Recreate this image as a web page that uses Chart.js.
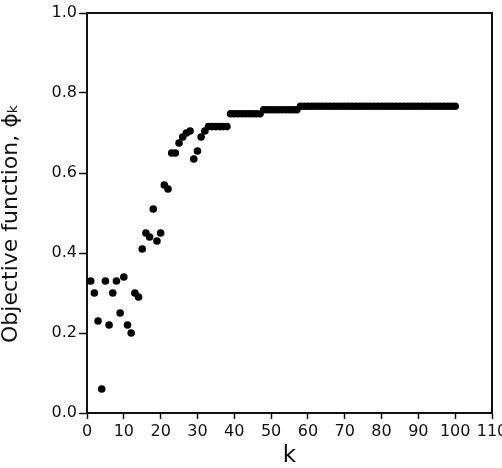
<!DOCTYPE html>
<html>
<head>
<meta charset="utf-8">
<script src="https://cdn.jsdelivr.net/npm/chart.js@4"></script>
<style>
  body { margin: 0; background: #fff; }
  #wrap { width: 502px; height: 468px; }
</style>
</head>
<body>
<div id="wrap"><canvas id="myChart" width="502" height="468"></canvas></div>
<script>
// iteration index k
var kValues = [1, 2, 3, 4, 5, 6, 7, 8, 9, 10,
  11, 12, 13, 14, 15, 16, 17, 18, 19, 20,
  21, 22, 23, 24, 25, 26, 27, 28, 29, 30,
  31, 32, 33, 34, 35, 36, 37, 38, 39, 40,
  41, 42, 43, 44, 45, 46, 47, 48, 49, 50,
  51, 52, 53, 54, 55, 56, 57, 58, 59, 60,
  61, 62, 63, 64, 65, 66, 67, 68, 69, 70,
  71, 72, 73, 74, 75, 76, 77, 78, 79, 80,
  81, 82, 83, 84, 85, 86, 87, 88, 89, 90,
  91, 92, 93, 94, 95, 96, 97, 98, 99, 100];

// objective function phi_k
var phiValues = [0.33, 0.30, 0.23, 0.06, 0.33, 0.22, 0.30, 0.33, 0.25, 0.34,
  0.22, 0.20, 0.30, 0.29, 0.41, 0.45, 0.44, 0.51, 0.43, 0.45,
  0.57, 0.56, 0.65, 0.65, 0.675, 0.69, 0.70, 0.705, 0.635, 0.655,
  0.69, 0.705, 0.716, 0.716, 0.716, 0.716, 0.716, 0.716, 0.748, 0.748,
  0.748, 0.748, 0.748, 0.748, 0.748, 0.748, 0.748, 0.758, 0.758, 0.758,
  0.758, 0.758, 0.758, 0.758, 0.758, 0.758, 0.758, 0.767, 0.767, 0.767,
  0.767, 0.767, 0.767, 0.767, 0.767, 0.767, 0.767, 0.767, 0.767, 0.767,
  0.767, 0.767, 0.767, 0.767, 0.767, 0.767, 0.767, 0.767, 0.767, 0.767,
  0.767, 0.767, 0.767, 0.767, 0.767, 0.767, 0.767, 0.767, 0.767, 0.767,
  0.767, 0.767, 0.767, 0.767, 0.767, 0.767, 0.767, 0.767, 0.767, 0.767];

var xTicks = [0, 10, 20, 30, 40, 50, 60, 70, 80, 90, 100, 110];
var yTicks = [0.0, 0.2, 0.4, 0.6, 0.8, 1.0];

var points = kValues.map(function (k, i) { return { x: k, y: phiValues[i] }; });

// closes the box on the top and right sides
const frameBox = {
  id: 'frameBox',
  afterDraw: function (chart) {
    var a = chart.chartArea, c = chart.ctx;
    c.save();
    c.strokeStyle = '#111';
    c.lineWidth = 2;
    c.beginPath();
    c.moveTo(a.left, a.top);
    c.lineTo(a.right, a.top);
    c.lineTo(a.right, a.bottom);
    c.stroke();
    c.restore();
  }
};

var ctx = document.getElementById('myChart').getContext('2d');
var chart = new Chart(ctx, {
  type: 'scatter',
  data: {
    datasets: [{
      data: points,
      backgroundColor: '#000',
      borderWidth: 0,
      pointRadius: 3.8,
      pointHoverRadius: 3.8
    }]
  },
  options: {
    responsive: false,
    animation: false,
    layout: { padding: { top: 13, right: 10, left: 0, bottom: 0 } },
    plugins: { legend: { display: false }, tooltip: { enabled: false } },
    scales: {
      x: {
        type: 'linear',
        min: xTicks[0],
        max: xTicks[xTicks.length - 1],
        afterBuildTicks: function (s) { s.ticks = xTicks.map(function (v) { return { value: v }; }); },
        afterFit: function (s) { s.height = 55; s.paddingRight = 0; s.paddingLeft = 0; },
        border: { display: true, color: '#111', width: 2 },
        grid: { drawOnChartArea: false, drawTicks: true, tickLength: 6, tickWidth: 1.5, tickColor: '#111' },
        ticks: {
          padding: 3,
          color: '#111',
          maxRotation: 0,
          autoSkip: false,
          font: { family: 'DejaVu Sans', size: 16 }
        },
        title: {
          display: true,
          text: 'k',
          color: '#111',
          padding: { top: 0, bottom: 0 },
          font: { family: 'DejaVu Sans', size: 23, lineHeight: 1 }
        }
      },
      y: {
        type: 'linear',
        min: yTicks[0],
        max: yTicks[yTicks.length - 1],
        afterBuildTicks: function (s) { s.ticks = yTicks.map(function (v) { return { value: v }; }); },
        afterFit: function (s) { s.width = 87; },
        border: { display: true, color: '#111', width: 2 },
        grid: { drawOnChartArea: false, drawTicks: true, tickLength: 8, tickWidth: 1.5, tickColor: '#111' },
        ticks: {
          padding: 2,
          color: '#111',
          autoSkip: false,
          font: { family: 'DejaVu Sans', size: 16 },
          callback: function (v) { return v.toFixed(1); }
        },
        title: {
          display: true,
          // trailing no-break spaces nudge the centred title down a little
          text: 'Objective function, \u03D5\u2096\u00A0\u00A0\u00A0',
          color: '#111',
          padding: { top: 0.5, bottom: 0 },
          font: { family: 'DejaVu Sans', size: 22, lineHeight: 1 }
        }
      }
    }
  },
  plugins: [frameBox]
});
</script>
</body>
</html>
